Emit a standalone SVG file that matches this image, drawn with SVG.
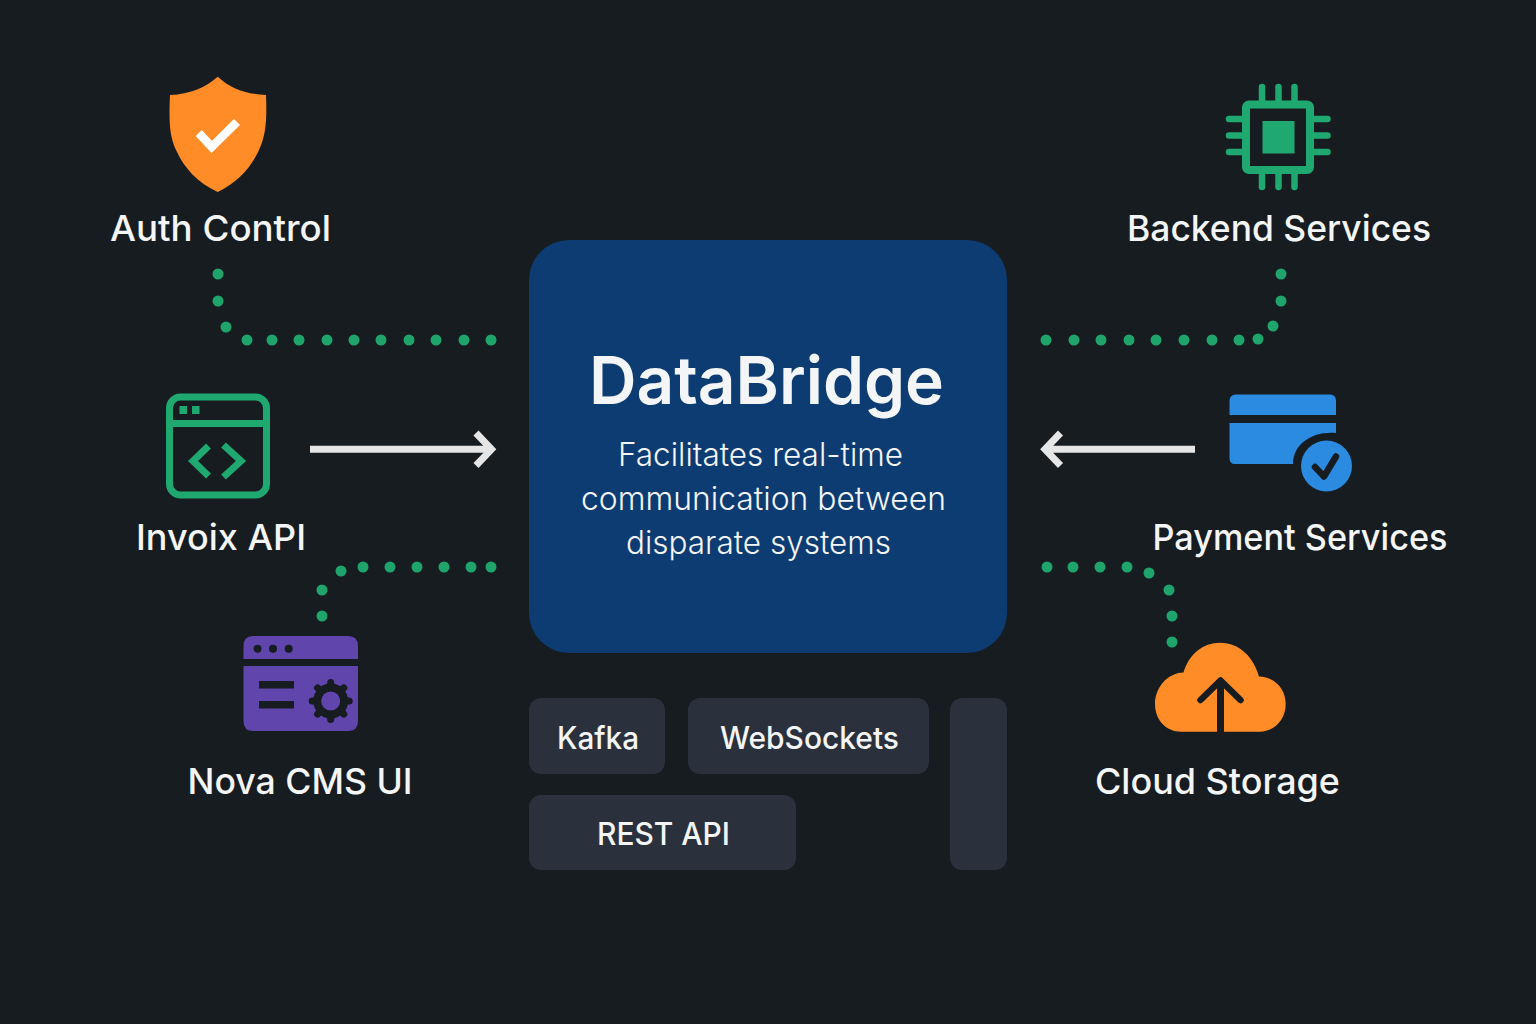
<svg xmlns="http://www.w3.org/2000/svg" width="1536" height="1024" viewBox="0 0 1536 1024">
<style>
text{font-family:Inter,"Noto Sans","Liberation Sans",sans-serif;fill:#f4f5f6;text-anchor:middle}
.lbl{font-size:36px;font-weight:500}
.sub{font-size:32px;font-weight:350}
.chip{font-size:31px;font-weight:500}
.tag{fill:#2a313c}
.dot{fill:#1fa56c}
.arrow{fill:none;stroke:#e6e6e6;stroke-width:7}
.gs{fill:none;stroke:#1fa971;stroke-width:7}
.pin{stroke:#1fa971;stroke-width:6.5;stroke-linecap:round}
</style>
<defs><circle id="d" r="5.5" class="dot"/></defs>
<rect width="1536" height="1024" fill="#161c20"/>
<g id="connectors">
<g id="dots-auth"><use href="#d" x="218" y="274"/><use href="#d" x="218" y="301"/><use href="#d" x="226" y="327"/><use href="#d" x="247" y="340"/><use href="#d" x="272" y="340"/><use href="#d" x="299" y="340"/><use href="#d" x="327" y="340"/><use href="#d" x="354" y="340"/><use href="#d" x="381" y="340"/><use href="#d" x="409" y="340"/><use href="#d" x="436" y="340"/><use href="#d" x="464" y="340"/><use href="#d" x="491" y="340"/></g>
<g id="dots-backend"><use href="#d" x="1046" y="340"/><use href="#d" x="1074" y="340"/><use href="#d" x="1101" y="340"/><use href="#d" x="1129" y="340"/><use href="#d" x="1156" y="340"/><use href="#d" x="1184" y="340"/><use href="#d" x="1212" y="340"/><use href="#d" x="1239" y="340"/><use href="#d" x="1258" y="339"/><use href="#d" x="1273" y="326"/><use href="#d" x="1281" y="301"/><use href="#d" x="1281" y="274"/></g>
<g id="dots-cms"><use href="#d" x="491" y="567"/><use href="#d" x="471" y="567"/><use href="#d" x="444" y="567"/><use href="#d" x="417" y="567"/><use href="#d" x="390" y="567"/><use href="#d" x="363" y="567"/><use href="#d" x="341" y="571"/><use href="#d" x="322" y="590"/><use href="#d" x="322" y="616"/></g>
<g id="dots-cloud"><use href="#d" x="1047" y="567"/><use href="#d" x="1073" y="567"/><use href="#d" x="1100" y="567"/><use href="#d" x="1127" y="567"/><use href="#d" x="1149" y="573"/><use href="#d" x="1169" y="590"/><use href="#d" x="1172" y="616"/><use href="#d" x="1172" y="642"/></g>
<path class="arrow" d="M310 449.300H490M476 433L491.500 449.300L476 465.500"/>
<path class="arrow" d="M1195 449.300H1046M1060.500 433L1045 449.300L1060.500 465.500"/>
</g>
<g id="databridge">
<rect x="529" y="240" width="478" height="413" rx="40" fill="#0d3c72"/>
<text x="766.500" y="404" font-size="66" font-weight="600" textLength="355" lengthAdjust="spacingAndGlyphs">DataBridge</text>
<text class="sub" x="760.500" y="466" textLength="285" lengthAdjust="spacingAndGlyphs">Facilitates real-time</text>
<text class="sub" x="763.500" y="510" textLength="365" lengthAdjust="spacingAndGlyphs">communication between</text>
<text class="sub" x="758.500" y="554" textLength="265" lengthAdjust="spacingAndGlyphs">disparate systems</text>
</g>
<g id="kafka"><rect class="tag" x="529" y="698" width="136" height="76" rx="12"/><text class="chip" x="598" y="749" textLength="82" lengthAdjust="spacingAndGlyphs">Kafka</text></g>
<g id="websockets"><rect class="tag" x="688" y="698" width="241" height="76" rx="12"/><text class="chip" x="809.500" y="749" textLength="179" lengthAdjust="spacingAndGlyphs">WebSockets</text></g>
<g id="rest-api"><rect class="tag" x="529" y="795" width="267" height="75" rx="12"/><text class="chip" x="663.500" y="845" textLength="133" lengthAdjust="spacingAndGlyphs">REST API</text></g>
<g id="blank-tag"><rect class="tag" x="950" y="698" width="57" height="172" rx="12"/></g>
<g id="auth-control">
<path d="M217.700 76.700C205 88 190 94 170 95C169 120 169 135 176 150C184 168 198 183 217.700 192C237 183 251 168 259 150C266 135 267 120 266 95C245 94 230 88 217.700 76.700Z" fill="#ff8c26"/>
<path d="M198.700 133L211.700 147L237 122" fill="none" stroke="#fff" stroke-width="8.500"/>
<text class="lbl" x="220.500" y="241" textLength="221" lengthAdjust="spacingAndGlyphs">Auth Control</text>
</g>
<g id="backend-services">
<rect x="1246" y="104.500" width="64" height="65.500" rx="3" fill="none" stroke="#1fa971" stroke-width="8"/>
<rect x="1262.500" y="121" width="32" height="32.500" fill="#1fa971"/>
<path class="pin" d="M1262 87V100M1278.500 87V100M1294.500 87V100M1262 174V187M1278.500 174V187M1294.500 174V187M1229 119H1242M1229 135.500H1242M1229 152H1242M1314 119H1327.500M1314 135.500H1327.500M1314 152H1327.500"/>
<text class="lbl" x="1279" y="241" textLength="304" lengthAdjust="spacingAndGlyphs">Backend Services</text>
</g>
<g id="invoix-api">
<rect x="169.500" y="397" width="97" height="98" rx="11" class="gs"/>
<path class="gs" d="M169.500 423.500H266.500M208.500 446L193 461L208.500 476M223.500 445L241 461L223.500 477"/>
<rect x="179.500" y="406" width="7.500" height="8" fill="#1fa971"/><rect x="192" y="406" width="7.500" height="8" fill="#1fa971"/>
<text class="lbl" x="221" y="550" textLength="170" lengthAdjust="spacingAndGlyphs">Invoix API</text>
</g>
<g id="payment-services">
<path fill="#2a8be0" d="M1236 394.500H1330Q1336 394.500 1336 401V415H1229.500V401Q1229.500 394.500 1236 394.500Z"/>
<path fill="#2a8be0" d="M1229.500 423H1336V433C1311 431 1293 445 1293 464H1235Q1229.500 464 1229.500 458Z"/>
<circle cx="1326.500" cy="466" r="25.500" fill="#2a8be0"/>
<path d="M1315 467L1324 476.500L1336 456.500" fill="none" stroke="#161c20" stroke-width="6.500" stroke-linecap="round" stroke-linejoin="round"/>
<text class="lbl" x="1300" y="550" textLength="295" lengthAdjust="spacingAndGlyphs">Payment Services</text>
</g>
<g id="nova-cms-ui">
<path fill="#5f45ac" d="M253 636H348Q358 636 358 646V659H243.500V646Q243.500 636 253 636Z"/>
<path fill="#5f45ac" d="M243.500 666H358V721Q358 731 348 731H253Q243.500 731 243.500 721Z"/>
<circle cx="257.500" cy="648.700" r="4" fill="#161c20"/><circle cx="273" cy="648.700" r="4" fill="#161c20"/><circle cx="288.700" cy="648.700" r="4" fill="#161c20"/>
<rect x="259" y="681" width="35" height="7.500" fill="#161c20"/><rect x="259" y="701" width="35" height="7.500" fill="#161c20"/>
<circle cx="330.700" cy="701" r="17.500" fill="#161c20"/>
<path stroke="#161c20" stroke-width="7" stroke-linecap="round" d="M330.700 682.500V719.500M312.200 701H349.200M317.600 687.900L343.800 714.100M317.600 714.100L343.800 687.900"/>
<circle cx="330.700" cy="701" r="9.500" fill="#5f45ac"/>
<text class="lbl" x="300" y="794" textLength="225" lengthAdjust="spacingAndGlyphs">Nova CMS UI</text>
</g>
<g id="cloud-storage">
<path fill="#ff8c26" d="M1183.500 672.500C1189 654 1203 642.700 1220 642.700C1240 642.700 1254 658 1259 676.500C1275 677 1285.700 689 1285.700 704C1285.700 720 1274 731.700 1260 731.700H1181C1166 731.700 1155 720 1155 704C1155 688 1167 673 1183.500 672.500Z"/>
<path fill="none" stroke="#161c20" stroke-width="6.500" stroke-linecap="round" stroke-linejoin="round" d="M1200.500 700L1220.500 680.500L1240.500 700"/>
<path fill="none" stroke="#161c20" stroke-width="7" d="M1220.500 684V732"/>
<text class="lbl" x="1217.500" y="794" textLength="245" lengthAdjust="spacingAndGlyphs">Cloud Storage</text>
</g>
</svg>
